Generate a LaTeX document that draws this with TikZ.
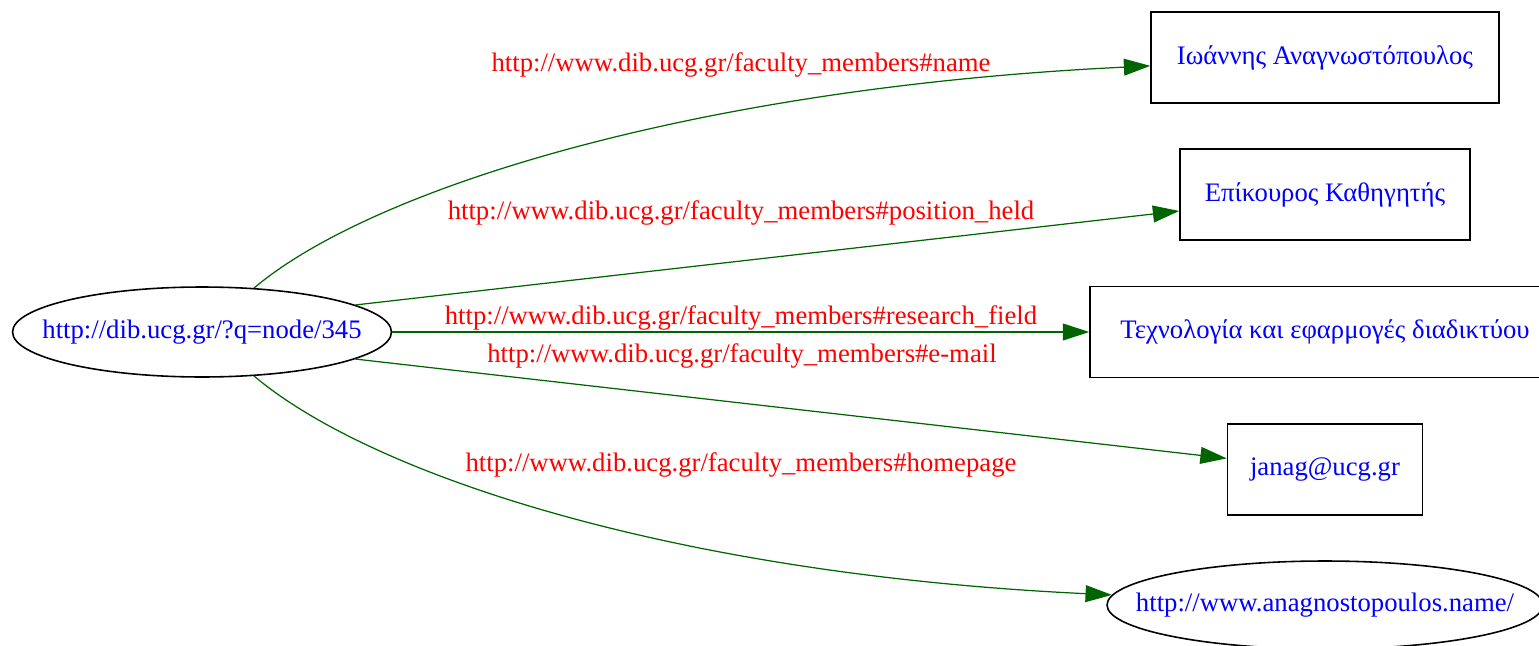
\documentclass[tikz,border=0pt]{standalone}
\usepackage{fontspec}
\setmainfont{Liberation Serif}
\usepackage{tikz}
\usetikzlibrary{shapes.geometric,arrows.meta}
\definecolor{edgegreen}{RGB}{0,100,0}
\newcommand{\zw}[1]{\makebox[0pt]{#1}}

\begin{document}
\begin{tikzpicture}[x=0.02cm,y=-0.02cm,
  every node/.style={font=\fontsize{15.2}{18}\selectfont},
  res/.style={draw,line width=0.9pt,ellipse,inner sep=0pt,text=blue,minimum height=1.8cm},
  lit/.style={draw,line width=0.9pt,rectangle,inner sep=0pt,text=blue,minimum height=1.82cm},
  prop/.style={text=red,inner sep=0pt},
  rel/.style={edgegreen,line width=0.7pt,-{Triangle[length=15pt,width=9.6pt]}}]
  \useasboundingbox (0,0) rectangle (1539,646);
  \node[res,minimum width=7.58cm] (page) at (202,332) {\zw{http://dib.ucg.gr/?q=node/345}};
  \node[lit,minimum width=6.96cm] (name) at (1325,57.5) {Ιωάννης Αναγνωστόπουλος};
  \node[lit,minimum width=5.8cm] (position) at (1325,194.5) {Επίκουρος Καθηγητής};
  \node[lit,minimum width=9.4cm] (field) at (1325,332) {Τεχνολογία και εφαρμογές διαδικτύου};
  \node[lit,minimum width=3.9cm] (email) at (1325,469.5) {janag@ucg.gr};
  \node[res,minimum width=8.72cm,minimum height=1.76cm] (homepage) at (1325,605) {\zw{http://www.anagnostopoulos.name/}};
  \node[prop] (lname) at (741,65) {http://www.dib.ucg.gr/faculty\_members\#name};
  \node[prop] (lposition) at (741,213) {http://www.dib.ucg.gr/faculty\_members\#position\_held};
  \node[prop] (lfield) at (741,318) {http://www.dib.ucg.gr/faculty\_members\#research\_field};
  \node[prop] (lemail) at (742,356) {http://www.dib.ucg.gr/faculty\_members\#e-mail};
  \node[prop] (lhomepage) at (741,465) {http://www.dib.ucg.gr/faculty\_members\#homepage};
  \draw[rel] (page) .. controls (370,190) and (690,88) .. (name);
  \draw[rel] (page.10) -- (position);
  \draw[rel] (page) -- (field);
  \draw[rel] (page.-10) -- (email);
  \draw[rel] (page) .. controls (370,474) and (670,574) .. (homepage);
\end{tikzpicture}
\end{document}
